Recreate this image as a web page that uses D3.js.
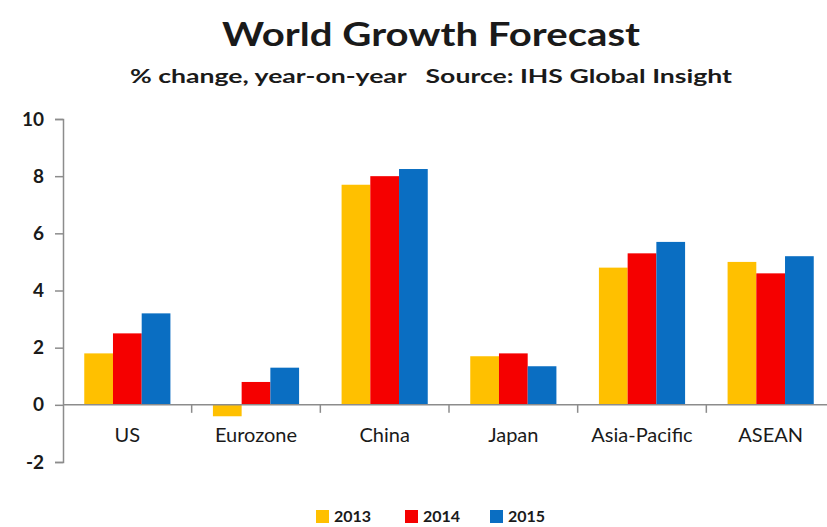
<!DOCTYPE html>
<html>
<head>
<meta charset="utf-8">
<script src="https://cdn.jsdelivr.net/npm/d3@7"></script>
<style>
  html, body { margin: 0; padding: 0; background: #fff; }
  svg { display: block; }
  text { font-family: Lato, "Open Sans", sans-serif; }
</style>
</head>
<body>
<svg id="chart" width="827" height="527"></svg>
<script>
const categories = ["US", "Eurozone", "China", "Japan", "Asia-Pacific", "ASEAN"];
const seriesNames = ["2013", "2014", "2015"];
const values2013 = [1.8, -0.4, 7.7, 1.7, 4.8, 5.0];
const values2014 = [2.5, 0.8, 8.0, 1.8, 5.3, 4.6];
const values2015 = [3.2, 1.3, 8.25, 1.35, 5.7, 5.2];
const yTicks = [-2, 0, 2, 4, 6, 8, 10];
const colors = ["#FFC000", "#F50000", "#0A6EC2"];
const titleText = "World Growth Forecast";
const subtitleText = "% change, year-on-year   Source: IHS Global Insight";

const seriesValues = [values2013, values2014, values2015];

const svg = d3.select("#chart");

const x = d3.scaleBand().domain(categories).range([63, 835]).paddingInner(0).paddingOuter(0);
const xSub = d3.scaleBand().domain(seriesNames).range([0, x.bandwidth()]).paddingInner(0).paddingOuter(0.74);
const y = d3.scaleLinear().domain([-2, 10]).range([462, 119]);

// Title
svg.append("text")
  .attr("x", 431).attr("y", 46)
  .attr("text-anchor", "middle")
  .attr("font-size", 33).attr("font-weight", 700).attr("fill", "#1a1a1a")
  .attr("textLength", 418).attr("lengthAdjust", "spacingAndGlyphs")
  .text(titleText);

svg.append("text")
  .attr("x", 431).attr("y", 83)
  .attr("text-anchor", "middle")
  .attr("font-size", 19).attr("font-weight", 700).attr("fill", "#1a1a1a")
  .attr("textLength", 602).attr("lengthAdjust", "spacingAndGlyphs")
  .attr("xml:space", "preserve")
  .style("white-space", "pre")
  .text(subtitleText);

// Bars
const groups = svg.append("g").selectAll("g")
  .data(categories)
  .join("g")
  .attr("transform", d => `translate(${x(d)},0)`);

groups.selectAll("rect")
  .data((c, i) => seriesNames.map((s, j) => ({ s, v: seriesValues[j][i], j })))
  .join("rect")
  .attr("x", d => xSub(d.s))
  .attr("width", xSub.bandwidth())
  .attr("y", d => y(Math.max(0, d.v)))
  .attr("height", d => Math.abs(y(d.v) - y(0)))
  .attr("fill", d => colors[d.j]);

// Y axis
const yAxis = svg.append("g")
  .attr("transform", "translate(63,0)")
  .call(d3.axisLeft(y).tickValues(yTicks).tickSize(8).tickPadding(11).tickFormat(d => String(d)));
yAxis.select(".domain").attr("stroke", "#8c8c8c").attr("stroke-width", 1.5);
yAxis.selectAll(".tick line").attr("stroke", "#8c8c8c").attr("stroke-width", 1.5);
yAxis.selectAll(".tick text")
  .attr("font-size", 19).attr("font-weight", 700).attr("fill", "#1a1a1a")
  .attr("font-family", "Lato, sans-serif");

// X axis at zero
const xAxis = svg.append("g").attr("transform", `translate(0,${y(0)})`);
xAxis.append("line")
  .attr("x1", x.range()[0]).attr("x2", x.range()[1])
  .attr("stroke", "#8c8c8c").attr("stroke-width", 1.5);
xAxis.selectAll("line.bt")
  .data(categories.slice(1))
  .join("line")
  .attr("class", "bt")
  .attr("x1", d => x(d)).attr("x2", d => x(d))
  .attr("y1", 0).attr("y2", 8)
  .attr("stroke", "#8c8c8c").attr("stroke-width", 1.5);
xAxis.selectAll("text")
  .data(categories)
  .join("text")
  .attr("x", d => x(d) + x.bandwidth() / 2)
  .attr("y", 37)
  .attr("text-anchor", "middle")
  .attr("font-size", 20).attr("font-weight", 400).attr("fill", "#1a1a1a")
  .text(d => d);

// Legend
const legendX = [316, 405, 490];
const legend = svg.append("g").selectAll("g")
  .data(seriesNames)
  .join("g")
  .attr("transform", (d, i) => `translate(${legendX[i]},510)`);
legend.append("rect")
  .attr("width", 13).attr("height", 13)
  .attr("fill", (d, i) => colors[i]);
legend.append("text")
  .attr("x", 18).attr("y", 12)
  .attr("font-size", 16).attr("font-weight", 700).attr("fill", "#1a1a1a")
  .text(d => d);
</script>
</body>
</html>
